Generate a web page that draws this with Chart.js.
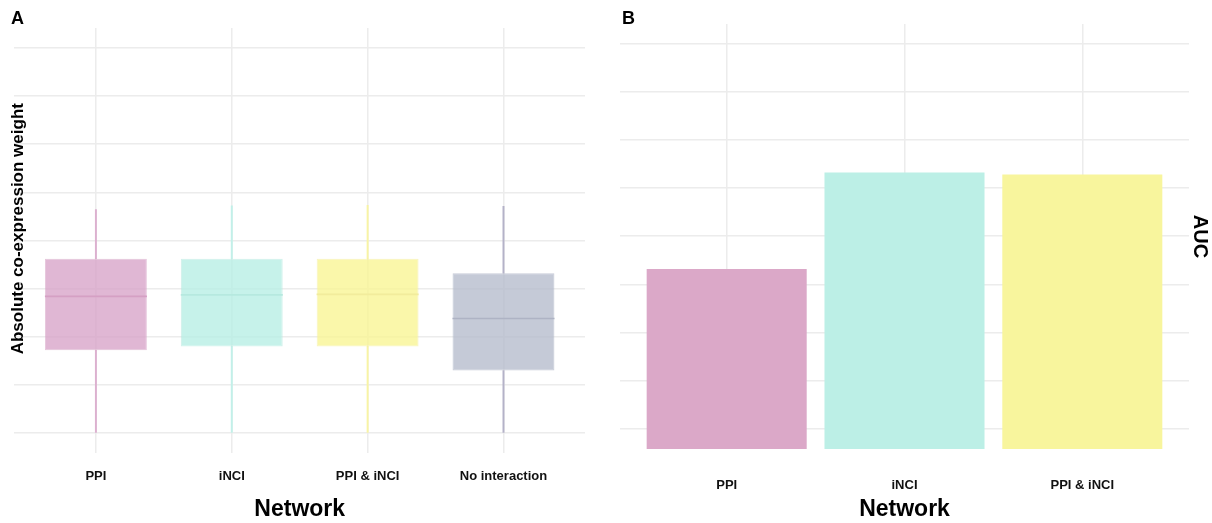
<!DOCTYPE html>
<html>
<head>
<meta charset="utf-8">
<script src="https://cdn.jsdelivr.net/npm/chart.js@4.4.0/dist/chart.umd.min.js"></script>
<style>
  body { margin: 0; background: #fff; width: 1212px; height: 523px; overflow: hidden; position: relative; font-family: "Liberation Sans", Arial, sans-serif; }
  .panel { position: absolute; top: 0; }
  .tag { position: absolute; font-weight: bold; font-size: 18px; line-height: 18px; color: #000; }
</style>
</head>
<body>
<canvas id="chartA" class="panel" style="left:0" width="600" height="523"></canvas>
<canvas id="chartB" class="panel" style="left:600px" width="612" height="523"></canvas>
<div class="tag" style="left:11px;top:9px">A</div>
<div class="tag" style="left:622px;top:9px">B</div>
<script>
// panel A: boxplot of absolute co-expression weight
const networks = ['PPI', 'iNCI', 'PPI & iNCI', 'No interaction'];
const weightMin = [0, 0, 0, 0];
const weightQ1 = [0.086, 0.090, 0.090, 0.065];
const weightMedian = [0.142, 0.1435, 0.144, 0.119];
const weightQ3 = [0.181, 0.181, 0.181, 0.166];
const weightMax = [0.232, 0.236, 0.2365, 0.2355];
const weightTicks = [0, 0.05, 0.1, 0.15, 0.2, 0.25, 0.3, 0.35, 0.4];

// panel B: AUC per network
const aucNetworks = ['PPI', 'iNCI', 'PPI & iNCI'];
const aucValues = [0.583, 0.633, 0.632];
const aucTicks = [0.5, 0.525, 0.55, 0.575, 0.6, 0.625, 0.65, 0.675, 0.7];

const boxFill = ['rgba(216,165,201,0.8)', 'rgba(184,239,229,0.8)', 'rgba(249,245,149,0.8)', 'rgba(182,189,205,0.8)'];
const boxEdge = ['rgba(214,160,196,0.6)', 'rgba(178,232,222,0.6)', 'rgba(244,238,150,0.6)', 'rgba(176,182,200,0.7)'];
const medianColor = ['#d5a0c4', '#b6e9df', '#f2ec9c', '#aeb3c4'];
const whiskerColor = ['#dcb0cf', '#c2f0e9', '#f8f4a4', '#b4b2c8'];
const barColors = ['#dba8c8', '#bcefe6', '#f8f59d'];

const gridColor = '#ececec';

Chart.defaults.font.family = 'Liberation Sans';
Chart.defaults.color = '#111';

const pts = (vals) => vals.map((v, i) => ({ x: i + 1, y: v }));
const ranges = (lo, hi) => lo.map((v, i) => ({ x: i + 1, y: [v, hi[i]] }));

new Chart(document.getElementById('chartA'), {
  type: 'bar',
  data: {
    datasets: [
      {
        data: ranges(weightMin, weightQ1),
        backgroundColor: whiskerColor,
        barThickness: 1.3,
        grouped: false,
        order: 3
      },
      {
        data: ranges(weightQ3, weightMax),
        backgroundColor: whiskerColor,
        barThickness: 1.3,
        grouped: false,
        order: 3
      },
      {
        data: ranges(weightQ1, weightQ3),
        backgroundColor: boxFill,
        borderColor: boxEdge,
        borderWidth: 1,
        borderSkipped: false,
        barPercentage: 0.75,
        categoryPercentage: 1,
        grouped: false,
        order: 2
      },
      {
        type: 'line',
        data: pts(weightMedian),
        showLine: false,
        pointStyle: 'line',
        pointRadius: 51,
        pointBorderWidth: 1.6,
        pointBorderColor: medianColor,
        order: 1
      }
    ]
  },
  options: {
    responsive: false,
    animation: false,
    devicePixelRatio: 1,
    layout: { autoPadding: false, padding: { left: 10.4, top: 28, right: 15, bottom: 0 } },
    plugins: { legend: { display: false }, tooltip: { enabled: false } },
    scales: {
      x: {
        type: 'linear',
        min: 0.4,
        max: 4.6,
        offset: false,
        afterBuildTicks: (axis) => { axis.ticks = networks.map((_, i) => ({ value: i + 1 })); },
        ticks: {
          callback: (v, i) => networks[i],
          font: { size: 13, weight: 'bold' },
          padding: 15.3,
          maxRotation: 0,
          autoSkip: false
        },
        grid: { color: gridColor, lineWidth: 1.5, drawTicks: false, offset: false },
        border: { display: false },
        title: {
          display: true,
          text: 'Network',
          font: { size: 23, weight: 'bold' },
          color: '#000',
          padding: { top: -3.8, bottom: 0 }
        }
      },
      y: {
        min: -0.0207,
        max: 0.4207,
        afterBuildTicks: (axis) => { axis.ticks = weightTicks.map(v => ({ value: v })); },
        ticks: { display: false },
        grid: { color: gridColor, lineWidth: 1.5, drawTicks: false },
        border: { display: false },
        title: {
          display: true,
          // leading spaces nudge the title up a little, as in the original
          text: '     Absolute co-expression weight',
          font: { size: 17, weight: 'bold' },
          color: '#000',
          padding: { top: -2.4, bottom: -14 }
        }
      }
    }
  }
});

new Chart(document.getElementById('chartB'), {
  type: 'bar',
  data: {
    datasets: [{
      data: pts(aucValues),
      backgroundColor: barColors,
      barPercentage: 0.9,
      categoryPercentage: 1
    }]
  },
  options: {
    responsive: false,
    animation: false,
    devicePixelRatio: 1,
    layout: { autoPadding: false, padding: { left: 20, top: 24, right: 0, bottom: 0 } },
    plugins: { legend: { display: false }, tooltip: { enabled: false } },
    scales: {
      x: {
        type: 'linear',
        min: 0.4,
        max: 3.6,
        offset: false,
        afterBuildTicks: (axis) => { axis.ticks = aucNetworks.map((_, i) => ({ value: i + 1 })); },
        ticks: {
          callback: (v, i) => aucNetworks[i],
          font: { size: 13, weight: 'bold' },
          padding: 28.8,
          maxRotation: 0,
          autoSkip: false
        },
        grid: { color: gridColor, lineWidth: 1.5, drawTicks: false, offset: false },
        border: { display: false },
        title: {
          display: true,
          text: 'Network',
          font: { size: 23, weight: 'bold' },
          color: '#000',
          padding: { top: -26.8, bottom: 0 }
        }
      },
      y: {
        position: 'right',
        min: 0.4896,
        max: 0.7101,
        afterBuildTicks: (axis) => { axis.ticks = aucTicks.map(v => ({ value: v })); },
        ticks: { display: false },
        grid: { color: gridColor, lineWidth: 1.5, drawTicks: false },
        border: { display: false },
        title: {
          display: true,
          text: 'AUC',
          font: { size: 20, weight: 'bold' },
          color: '#000',
          padding: { top: 0, bottom: -1 }
        }
      }
    }
  }
});
</script>
</body>
</html>
